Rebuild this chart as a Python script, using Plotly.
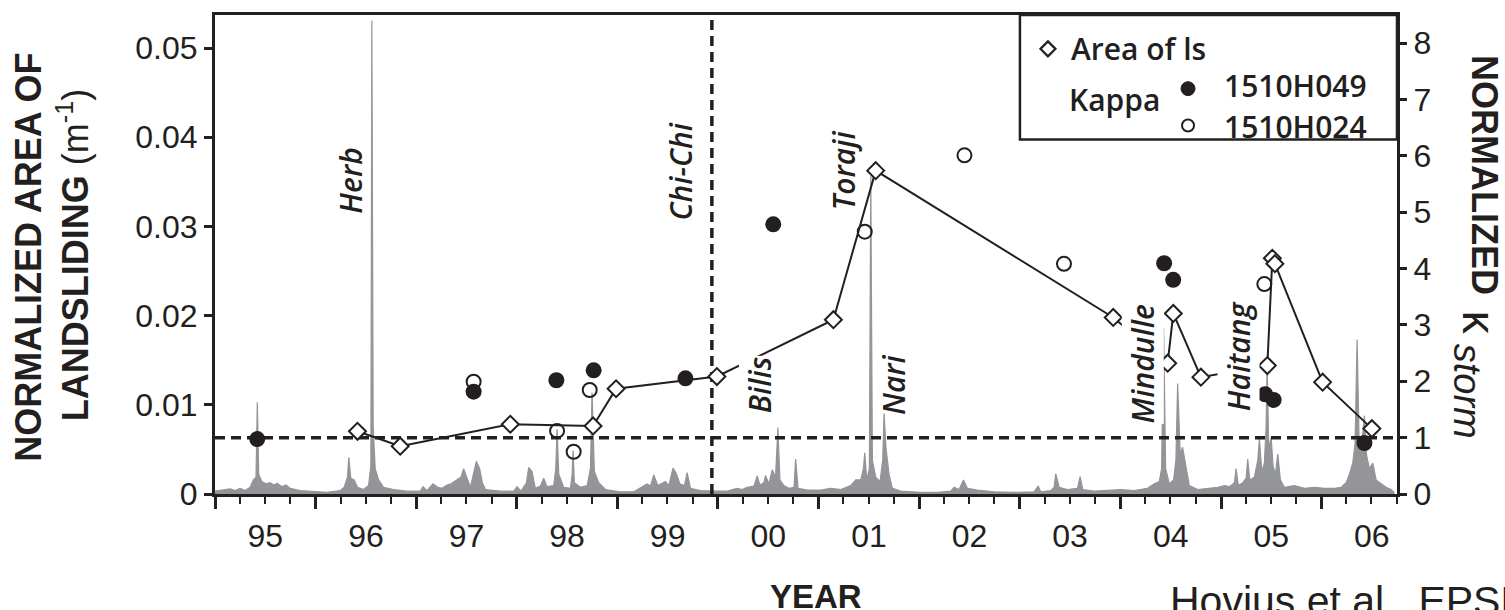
import plotly.graph_objects as go
import pandas as pd

# ---------------- data ----------------
# Normalized area of landsliding (left axis, m^-1)
area_year = [1996.416, 1996.84, 1997.935, 1998.758, 1998.987, 1999.99, 2001.146, 2001.567,
             2003.93, 2004.47, 2004.526, 2004.80, 2005.46, 2005.51, 2005.535, 2006.01, 2006.50]
area_val = [0.00703, 0.00536, 0.00782, 0.00763, 0.0118, 0.01317, 0.01954, 0.03625,
            0.01979, 0.01466, 0.02024, 0.0131, 0.0144, 0.02643, 0.02582, 0.01254, 0.00733]

# Normalized kappa_storm, station 1510H049 (filled) and 1510H024 (open)
k049_year = [1995.42, 1997.57, 1998.393, 1998.764, 1999.677, 2000.549, 2004.435, 2004.525,
             2005.438, 2005.523, 2006.426]
k049_val = [0.975, 1.816, 2.018, 2.194, 2.053, 4.785, 4.095, 3.80, 1.77, 1.67, 0.905]

k024_year = [1997.57, 1998.40, 1998.565, 1998.725, 2001.458, 2002.45, 2003.44, 2005.43]
k024_val = [1.993, 1.12, 0.75, 1.846, 4.655, 6.01, 4.085, 3.725]

# Grey background record (right-axis units)
gray_year = [1995.00, 1995.083, 1995.15, 1995.20, 1995.25, 1995.30, 1995.35, 1995.382, 1995.408,
             1995.421, 1995.435, 1995.465, 1995.508, 1995.548, 1995.587, 1995.62, 1995.664, 1995.707,
             1995.747, 1995.846, 1995.98, 1996.11, 1996.244, 1996.284, 1996.317, 1996.33, 1996.35,
             1996.383, 1996.417, 1996.476, 1996.526, 1996.549, 1996.559, 1996.572, 1996.592, 1996.626,
             1996.675, 1996.775, 1996.907, 1997.04, 1997.067, 1997.106, 1997.166, 1997.213, 1997.256,
             1997.305, 1997.345, 1997.405, 1997.445, 1997.471, 1997.504, 1997.538, 1997.597, 1997.63,
             1997.657, 1997.687, 1997.836, 1997.969, 1998.002, 1998.042, 1998.095, 1998.118, 1998.151,
             1998.184, 1998.234, 1998.267, 1998.30, 1998.367, 1998.387, 1998.40, 1998.417, 1998.466,
             1998.533, 1998.55, 1998.559, 1998.572, 1998.632, 1998.699, 1998.732, 1998.748, 1998.771,
             1998.815, 1998.881, 1999.03, 1999.163, 1999.246, 1999.295, 1999.329, 1999.362, 1999.402,
             1999.478, 1999.511, 1999.554, 1999.587, 1999.621, 1999.667, 1999.694, 1999.727, 1999.826,
             1999.975, 2000.091, 2000.191, 2000.241, 2000.29, 2000.357, 2000.39, 2000.416, 2000.456,
             2000.473, 2000.506, 2000.539, 2000.572, 2000.595, 2000.615, 2000.655, 2000.705, 2000.755,
             2000.771, 2000.795, 2000.887, 2001.02, 2001.12, 2001.219, 2001.318, 2001.368, 2001.418,
             2001.445, 2001.458, 2001.478, 2001.504, 2001.518, 2001.534, 2001.567, 2001.61, 2001.637,
             2001.65, 2001.67, 2001.70, 2001.733, 2001.816, 2002.015, 2002.181, 2002.313, 2002.347,
             2002.396, 2002.44, 2002.479, 2002.579, 2002.745, 2002.944, 2003.143, 2003.183, 2003.209,
             2003.309, 2003.342, 2003.358, 2003.392, 2003.474, 2003.574, 2003.60, 2003.627, 2003.74,
             2003.872, 2004.005, 2004.138, 2004.27, 2004.337, 2004.387, 2004.41, 2004.43, 2004.45,
             2004.486, 2004.529, 2004.552, 2004.569, 2004.595, 2004.618, 2004.652, 2004.685, 2004.768,
             2004.867, 2004.967, 2005.033, 2005.083, 2005.133, 2005.149, 2005.172, 2005.216, 2005.249,
             2005.265, 2005.285, 2005.332, 2005.365, 2005.381, 2005.405, 2005.431, 2005.448, 2005.458,
             2005.474, 2005.498, 2005.517, 2005.541, 2005.564, 2005.59, 2005.63, 2005.73, 2005.83,
             2005.929, 2006.028, 2006.128, 2006.194, 2006.244, 2006.277, 2006.31, 2006.333, 2006.353,
             2006.373, 2006.393, 2006.426, 2006.446, 2006.476, 2006.509, 2006.542, 2006.592, 2006.642,
             2006.691, 2006.724]
gray_val = [0.05, 0.07, 0.09, 0.06, 0.10, 0.06, 0.12, 0.25, 0.30,
            1.63, 0.35, 0.22, 0.18, 0.20, 0.16, 0.19, 0.13, 0.16,
            0.10, 0.06, 0.04, 0.03, 0.06, 0.12, 0.30, 0.65, 0.28,
            0.25, 0.12, 0.08, 0.15, 0.50, 8.40, 1.20, 0.45, 0.25,
            0.12, 0.08, 0.05, 0.05, 0.13, 0.06, 0.18, 0.12, 0.10,
            0.16, 0.18, 0.25, 0.30, 0.45, 0.27, 0.12, 0.58, 0.45,
            0.20, 0.08, 0.05, 0.05, 0.13, 0.05, 0.20, 0.47, 0.40,
            0.10, 0.14, 0.28, 0.13, 0.15, 0.45, 1.15, 0.35, 0.12,
            0.10, 0.35, 0.77, 0.20, 0.12, 0.15, 0.45, 1.80, 0.40,
            0.20, 0.08, 0.04, 0.04, 0.12, 0.18, 0.14, 0.34, 0.15,
            0.22, 0.15, 0.46, 0.36, 0.18, 0.15, 0.38, 0.10, 0.06,
            0.05, 0.05, 0.10, 0.08, 0.12, 0.14, 0.32, 0.16, 0.20,
            0.33, 0.18, 0.43, 0.30, 1.18, 0.25, 0.15, 0.10, 0.12,
            0.62, 0.10, 0.07, 0.07, 0.10, 0.08, 0.15, 0.25, 0.25,
            0.45, 0.73, 0.25, 0.45, 5.65, 0.60, 0.30, 0.22, 0.60,
            1.43, 0.80, 0.35, 0.10, 0.05, 0.03, 0.03, 0.05, 0.12,
            0.08, 0.25, 0.10, 0.07, 0.04, 0.03, 0.04, 0.14, 0.04,
            0.06, 0.12, 0.36, 0.12, 0.08, 0.10, 0.31, 0.08, 0.05,
            0.07, 0.08, 0.06, 0.10, 0.18, 0.22, 0.45, 2.95, 0.45,
            0.18, 0.25, 0.60, 1.96, 0.70, 0.83, 0.45, 0.15, 0.08,
            0.10, 0.12, 0.15, 0.13, 0.20, 0.45, 0.15, 0.20, 0.28,
            0.62, 0.25, 0.30, 0.60, 0.98, 0.40, 0.55, 1.20, 2.35,
            0.80, 1.00, 0.50, 0.35, 0.71, 0.25, 0.12, 0.15, 0.10,
            0.12, 0.10, 0.10, 0.12, 0.20, 0.35, 0.55, 0.90, 2.74,
            0.95, 0.75, 1.39, 0.70, 0.45, 0.55, 0.25, 0.18, 0.12,
            0.08, 0.02]

# Reference lines
chichi_year = 1999.94
kappa_ref = 1.0

# Axis setup values
x_start, x_end = 1995.0, 2006.75
left_top = 0.0537
right_top = 8.50
left_ticks = [0, 0.01, 0.02, 0.03, 0.04, 0.05]
left_ticktext = ["0", "0.01", "0.02", "0.03", "0.04", "0.05"]
right_ticks = [0, 1, 2, 3, 4, 5, 6, 7, 8]

# Storm / event labels: (name, paper x, paper y, white background)
storm_labels = [("Herb", 0.1145, 0.6549, False), ("Chi-Chi", 0.3935, 0.6736, False),
                ("Toraji", 0.5320, 0.6757, False), ("Bilis", 0.4610, 0.2287, True),
                ("Nari", 0.5740, 0.2287, False), ("Mindulle", 0.7850, 0.2723, True),
                ("Haitang", 0.8660, 0.2869, True)]


def to_date(y):
    yr = int(y)
    start = pd.Timestamp(yr, 1, 1)
    days = (pd.Timestamp(yr + 1, 1, 1) - start).days
    return start + pd.Timedelta(days=(y - yr) * days)


def dates(ys):
    return [to_date(v) for v in ys]


BLACK = "#231f20"
GREY = "#939598"
SANS = "Liberation Sans, Arial"
TICKFONT = dict(family=SANS, size=32, color=BLACK)
LABFONT = "Open Sans"

fig = go.Figure()

# grey record (right axis = base y)
fig.add_trace(go.Scatter(x=dates(gray_year), y=gray_val, mode="lines", fill="tozeroy",
                         line=dict(color=GREY, width=1.2), fillcolor=GREY,
                         hoverinfo="skip", showlegend=False, yaxis="y", xaxis="x"))
# dashed reference lines
fig.add_trace(go.Scatter(x=dates([x_start, x_end]), y=[kappa_ref, kappa_ref], mode="lines",
                         line=dict(color=BLACK, width=3.5, dash="10px,6px"),
                         showlegend=False, hoverinfo="skip", yaxis="y"))
fig.add_trace(go.Scatter(x=dates([chichi_year, chichi_year]), y=[0, right_top], mode="lines",
                         line=dict(color=BLACK, width=3.5, dash="10px,6px"),
                         showlegend=False, hoverinfo="skip", yaxis="y"))
# kappa points
fig.add_trace(go.Scatter(x=dates(k024_year), y=k024_val, mode="markers", name="1510H024",
                         marker=dict(symbol="circle-open", size=14, color=BLACK, line=dict(width=2)),
                         showlegend=False, yaxis="y"))
fig.add_trace(go.Scatter(x=dates(k049_year), y=k049_val, mode="markers", name="1510H049",
                         marker=dict(symbol="circle", size=16, color=BLACK),
                         showlegend=False, yaxis="y"))
# area of landsliding (left axis, overlay)
fig.add_trace(go.Scatter(x=dates(area_year), y=area_val, mode="lines+markers", name="Area of ls",
                         line=dict(color=BLACK, width=2),
                         marker=dict(symbol="diamond", size=13, color="white",
                                     line=dict(color=BLACK, width=2)),
                         showlegend=False, yaxis="y2"))

fig.update_layout(
    width=1505, height=610,
    margin=dict(l=215, r=108, t=13, b=116),
    paper_bgcolor="white", plot_bgcolor="white",
    showlegend=False,
    xaxis=dict(type="date", range=[to_date(x_start), to_date(x_end)],
               tick0="1995-01-01", dtick="M12", tickformat="%y", ticklabelmode="period",
               ticks="outside", ticklen=12, tickwidth=3, tickcolor=BLACK,
               minor=dict(dtick="M3", tick0="1995-01-01", ticks="outside", ticklen=7,
                          tickwidth=2, tickcolor=BLACK, showgrid=False),
               showline=True, linewidth=3, linecolor=BLACK, mirror=True,
               showgrid=False, zeroline=False, tickfont=TICKFONT),
    yaxis=dict(side="right", range=[0, right_top], tickmode="array", tickvals=right_ticks,
               ticks="outside", ticklen=7, tickwidth=3, tickcolor=BLACK,
               showline=True, linewidth=3, linecolor=BLACK, mirror=True,
               showgrid=False, zeroline=False, tickfont=TICKFONT),
    yaxis2=dict(side="left", overlaying="y", anchor="x", range=[0, left_top],
                tickmode="array", tickvals=left_ticks, ticktext=left_ticktext,
                ticks="outside", ticklen=8, tickwidth=3, tickcolor=BLACK,
                showline=True, linewidth=3, linecolor=BLACK,
                showgrid=False, zeroline=False, tickfont=TICKFONT),
)

ann = []
for name, x, y, bg in storm_labels:
    ann.append(dict(text=name, x=x, y=y, xref="paper", yref="paper", showarrow=False,
                    textangle=-90, xanchor="center", yanchor="middle",
                    bgcolor="white" if bg else "rgba(0,0,0,0)", borderpad=0,
                    font=dict(family=LABFONT, size=30, color=BLACK, style="italic", weight=600)))

# axis titles
ann.append(dict(text="<b>NORMALIZED AREA OF</b>", x=-0.1580, y=0.4935, xref="paper", yref="paper",
                showarrow=False, textangle=-90, xanchor="center", yanchor="middle",
                font=dict(family=SANS, size=36, color=BLACK)))
ann.append(dict(text="<b>LANDSLIDING</b> (m<sup>-1</sup>)", x=-0.1200, y=0.499, xref="paper",
                yref="paper", showarrow=False, textangle=-90, xanchor="center", yanchor="middle",
                font=dict(family=SANS, size=36, color=BLACK)))
# right title in pieces: NORMALIZED, kappa, storm subscript
ann.append(dict(text="<b>NORMALIZED</b>", x=1.0735, y=0.6663, xref="paper", yref="paper",
                showarrow=False, textangle=90, xanchor="center", yanchor="middle",
                font=dict(family=SANS, size=36, color=BLACK)))
ann.append(dict(text="κ", x=1.0700, y=0.3580, xref="paper", yref="paper",
                showarrow=False, textangle=90, xanchor="center", yanchor="middle",
                font=dict(family=SANS, size=46, color=BLACK)))
ann.append(dict(text="<i>storm</i>", x=1.0590, y=0.2141, xref="paper", yref="paper",
                showarrow=False, textangle=90, xanchor="center", yanchor="middle",
                font=dict(family=SANS, size=38, color=BLACK)))
ann.append(dict(text="<b>YEAR</b>", x=0.5085, y=-0.2141, xref="paper", yref="paper",
                showarrow=False, xanchor="center", yanchor="middle",
                font=dict(family=SANS, size=33, color=BLACK)))
ann.append(dict(text="Hovius et al., EPSL", x=0.8063, y=-0.2230, xref="paper", yref="paper",
                showarrow=False, xanchor="left", yanchor="middle",
                font=dict(family=SANS, size=41, color=BLACK)))

# legend (manual)
LEGFONT = dict(family=LABFONT, size=30, color=BLACK, weight=600)
ann.append(dict(text="Area of ls", x=0.7226, y=0.9293, xref="paper", yref="paper",
                showarrow=False, xanchor="left", yanchor="middle", font=LEGFONT))
ann.append(dict(text="Kappa", x=0.7606, y=0.8230, xref="paper", yref="paper",
                showarrow=False, xanchor="center", yanchor="middle", font=LEGFONT))
ann.append(dict(text="1510H049", x=0.8520, y=0.8525, xref="paper", yref="paper",
                showarrow=False, xanchor="left", yanchor="middle", font=LEGFONT))
ann.append(dict(text="1510H024", x=0.8520, y=0.7672, xref="paper", yref="paper",
                showarrow=False, xanchor="left", yanchor="middle", font=LEGFONT))
fig.update_layout(annotations=ann)

W, H = 1182.0, 481.0
dx, dy = 7.5 / W, 7.5 / H
cx, cy = 0.7047, 0.9293
shapes = [
    dict(type="rect", xref="paper", yref="paper", x0=0.681, x1=1.0, y0=0.740, y1=1.0,
         line=dict(color=BLACK, width=2.5), fillcolor="white", layer="above"),
    dict(type="path", xref="paper", yref="paper",
         path=f"M {cx-dx},{cy} L {cx},{cy+dy} L {cx+dx},{cy} L {cx},{cy-dy} Z",
         line=dict(color=BLACK, width=2.2), fillcolor="white", layer="above"),
    dict(type="circle", xref="paper", yref="paper", x0=0.8232 - 7 / W, x1=0.8232 + 7 / W,
         y0=0.8462 - 7 / H, y1=0.8462 + 7 / H, line=dict(color=BLACK, width=1),
         fillcolor=BLACK, layer="above"),
    dict(type="circle", xref="paper", yref="paper", x0=0.8232 - 6 / W, x1=0.8232 + 6 / W,
         y0=0.7692 - 6 / H, y1=0.7692 + 6 / H, line=dict(color=BLACK, width=2),
         fillcolor="white", layer="above"),
]
fig.update_layout(shapes=shapes)

fig.write_html("out.html")
